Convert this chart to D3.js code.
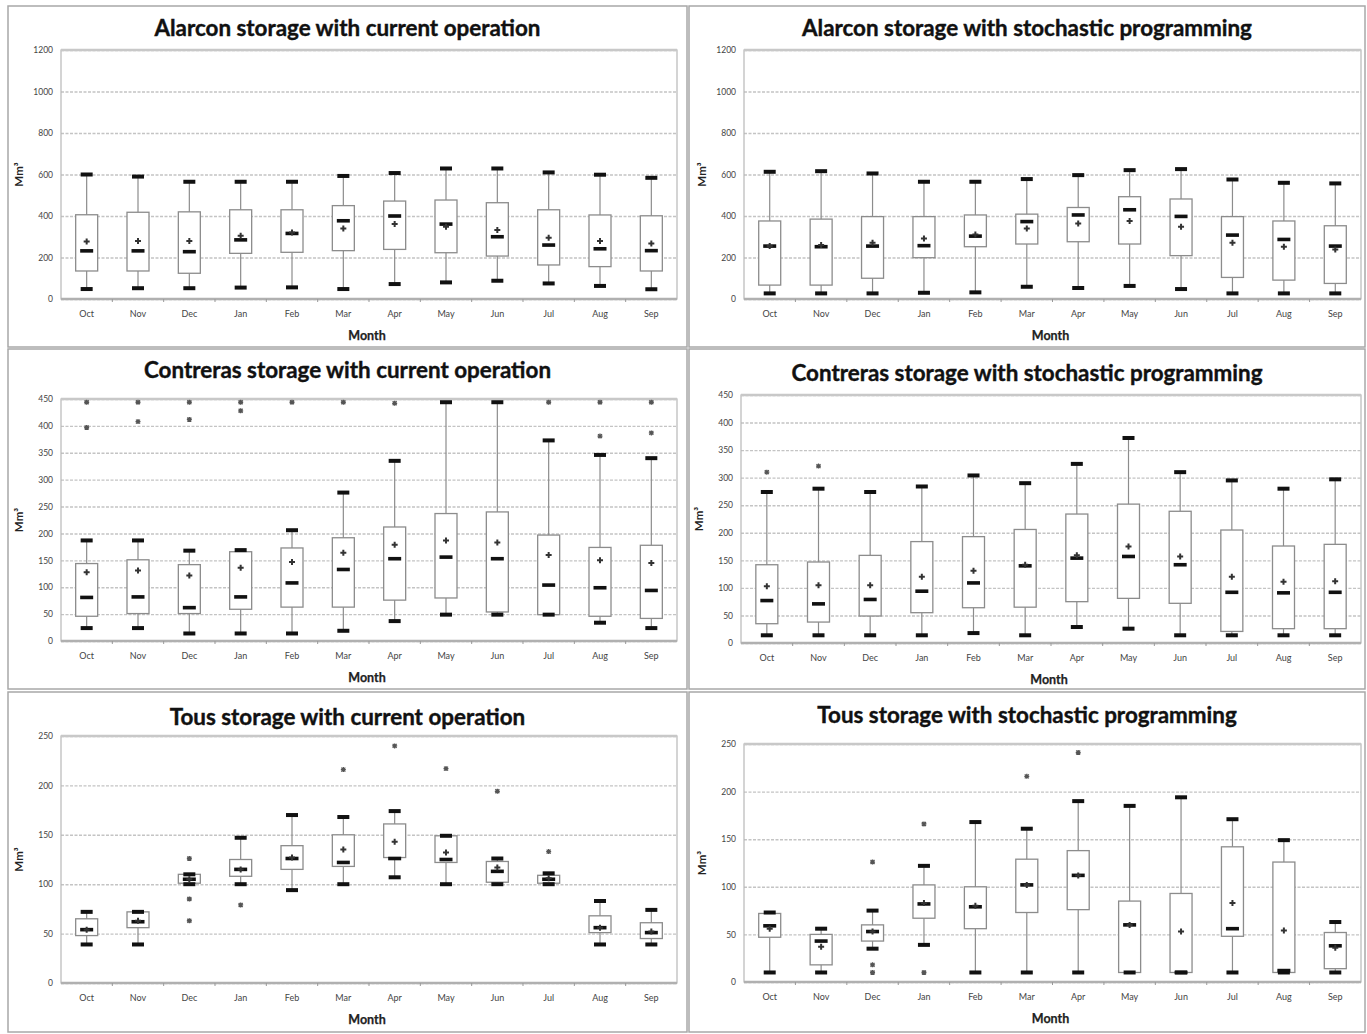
<!DOCTYPE html>
<html><head><meta charset="utf-8">
<script src="https://cdn.jsdelivr.net/npm/d3@7"></script>
<style>
body{margin:0;background:#fff;}
svg{display:block;}
</style></head>
<body><svg id="c" width="1367" height="1034"></svg>
<script>
// ---------- DATA ----------
const months = ["Oct","Nov","Dec","Jan","Feb","Mar","Apr","May","Jun","Jul","Aug","Sep"];
const alarconTicks = [0,200,400,600,800,1000,1200];
const contrerasTicks = [0,50,100,150,200,250,300,350,400,450];
const tousTicks = [0,50,100,150,200,250];

// Alarcon, current operation
const alarconCurLow    = [48,52,52,55,56,48,72,80,88,75,63,47];
const alarconCurQ1     = [135,135,124,220,225,233,239,223,207,164,156,135];
const alarconCurMedian = [232,232,228,285,316,377,400,361,300,260,242,233];
const alarconCurQ3     = [406,418,420,430,430,450,472,477,464,430,405,401];
const alarconCurHigh   = [600,590,565,565,565,593,607,629,629,610,599,584];
const alarconCurMean   = [277,280,280,305,321,340,361,348,332,295,279,268];
const alarconCurOut    = [];

// Alarcon, stochastic programming
const alarconStoLow    = [27,27,27,30,32,59,53,63,48,27,27,27];
const alarconStoQ1     = [67,67,100,199,252,265,276,265,209,104,91,75];
const alarconStoMedian = [255,252,255,257,303,373,405,430,398,308,287,255];
const alarconStoQ3     = [376,385,397,397,405,409,441,493,482,397,376,353];
const alarconStoHigh   = [613,616,605,565,565,578,597,621,626,576,560,557];
const alarconStoMean   = [255,260,271,292,311,340,364,376,348,271,252,239];
const alarconStoOut    = [];

// Contreras, current operation
const contrerasCurLow    = [24,24,14,14,14,19,37,49,49,49,34,24];
const contrerasCurQ1     = [46,51,51,59,63,63,76,80,54,49,46,42];
const contrerasCurMedian = [81,82,62,82,108,133,153,156,153,104,99,94];
const contrerasCurQ3     = [144,151,142,166,173,192,212,237,240,197,174,178];
const contrerasCurHigh   = [187,187,168,169,206,276,335,444,444,373,346,340];
const contrerasCurMean   = [128,131,122,136,147,164,179,187,183,160,150,145];
const contrerasCurOut    = [[0,444],[0,397],[1,444],[1,408],[2,444],[2,412],[3,444],[3,428],
                            [4,444],[5,444],[6,442],[9,444],[10,444],[10,381],[11,444],[11,387]];

// Contreras, stochastic programming
const contrerasStoLow    = [14,14,14,14,18,14,29,26,14,14,14,14];
const contrerasStoQ1     = [35,38,49,55,64,65,75,81,72,21,26,26];
const contrerasStoMedian = [77,71,79,94,109,140,154,157,142,92,91,92];
const contrerasStoQ3     = [142,147,159,184,193,206,234,252,239,205,176,179];
const contrerasStoHigh   = [274,280,274,284,304,290,325,372,310,295,280,297];
const contrerasStoMean   = [103,105,105,120,131,142,159,175,157,120,111,112];
const contrerasStoOut    = [[0,310],[1,321]];

// Tous, current operation
const tousCurLow    = [39,39,100,100,94,100,107,100,100,100,39,39];
const tousCurQ1     = [48,56,101,108,115,118,127,122,102,101,51,45];
const tousCurMedian = [54,62,105,115,126,122,126,125,113,105,56,51];
const tousCurQ3     = [65,72,110,125,139,150,161,149,123,109,68,61];
const tousCurHigh   = [72,72,110,147,170,168,174,149,126,111,83,74];
const tousCurMean   = [54,63,105,115,127,135,143,132,117,106,56,52];
const tousCurOut    = [[2,126],[2,85],[2,63],[3,79],[5,216],[6,240],[7,217],[8,194],[9,133]];

// Tous, stochastic programming
const tousStoLow    = [10,10,35,39,10,10,10,10,10,10,10,10];
const tousStoQ1     = [47,18,43,67,56,73,76,10,10,48,10,14];
const tousStoMedian = [59,43,53,82,79,102,112,60,10,56,12,38];
const tousStoQ3     = [72,50,60,102,100,129,138,85,93,142,126,52];
const tousStoHigh   = [73,56,75,122,168,161,190,185,194,171,149,63];
const tousStoMean   = [56,37,53,83,80,102,112,60,53,83,54,36];
const tousStoOut    = [[2,126],[2,18],[2,10],[3,166],[3,10],[5,216],[6,241]];

// ---------- LAYOUT ----------
const panels = [
  {title:"Alarcon storage with current operation", frame:[8,6,687,347], plot:[61,50,677,299], ticks:alarconTicks,
   low:alarconCurLow,q1:alarconCurQ1,med:alarconCurMedian,q3:alarconCurQ3,high:alarconCurHigh,mean:alarconCurMean,out:alarconCurOut, titleY:30},
  {title:"Alarcon storage with stochastic programming", frame:[689,6,1365,347], plot:[744,50,1361,299], ticks:alarconTicks,
   low:alarconStoLow,q1:alarconStoQ1,med:alarconStoMedian,q3:alarconStoQ3,high:alarconStoHigh,mean:alarconStoMean,out:alarconStoOut, titleY:30},
  {title:"Contreras storage with current operation", frame:[8,349,687,689], plot:[61,399,677,641], ticks:contrerasTicks,
   low:contrerasCurLow,q1:contrerasCurQ1,med:contrerasCurMedian,q3:contrerasCurQ3,high:contrerasCurHigh,mean:contrerasCurMean,out:contrerasCurOut, titleY:372},
  {title:"Contreras storage with stochastic programming", frame:[689,349,1365,689], plot:[741,395,1361,643], ticks:contrerasTicks,
   low:contrerasStoLow,q1:contrerasStoQ1,med:contrerasStoMedian,q3:contrerasStoQ3,high:contrerasStoHigh,mean:contrerasStoMean,out:contrerasStoOut, titleY:375},
  {title:"Tous storage with current operation", frame:[8,692,687,1032], plot:[61,736,677,983], ticks:tousTicks,
   low:tousCurLow,q1:tousCurQ1,med:tousCurMedian,q3:tousCurQ3,high:tousCurHigh,mean:tousCurMean,out:tousCurOut, titleY:719},
  {title:"Tous storage with stochastic programming", frame:[689,692,1365,1032], plot:[744,744,1361,982], ticks:tousTicks,
   low:tousStoLow,q1:tousStoQ1,med:tousStoMedian,q3:tousStoQ3,high:tousStoHigh,mean:tousStoMean,out:tousStoOut, titleY:717}
];

const svg = d3.select("#c");
const FONT = "Lato, 'Open Sans', sans-serif";

panels.forEach(p => {
  const [fx0,fy0,fx1,fy1] = p.frame;
  const [px0,py0,px1,py1] = p.plot;
  const g = svg.append("g");

  g.append("rect").attr("x",fx0).attr("y",fy0).attr("width",fx1-fx0).attr("height",fy1-fy0)
    .attr("fill","#fff").attr("stroke","#a8a8a8").attr("stroke-width",1.5);

  const x = d3.scaleBand().domain(months).range([px0,px1]).paddingInner(0).paddingOuter(0);
  const yMax = p.ticks[p.ticks.length-1];
  const y = d3.scaleLinear().domain([0,yMax]).range([py1,py0]);

  // gridlines
  const grid = g.append("g").attr("transform",`translate(${px0},0)`)
    .call(d3.axisLeft(y).tickValues(p.ticks).tickSize(-(px1-px0)).tickFormat(""));
  grid.select(".domain").remove();
  grid.selectAll("line").attr("stroke","#c4c4c4").attr("stroke-width",1.4).attr("stroke-dasharray","3,1.5");

  // plot frame
  g.append("rect").attr("x",px0).attr("y",py0).attr("width",px1-px0).attr("height",py1-py0)
    .attr("fill","none").attr("stroke","#b8b8b8").attr("stroke-width",1.2);
  g.append("line").attr("x1",px0).attr("x2",px1).attr("y1",py0).attr("y2",py0).attr("stroke","#c8c8c8").attr("stroke-width",2.5);
  g.append("line").attr("x1",px0).attr("x2",px1).attr("y1",py1).attr("y2",py1).attr("stroke","#b0b0b0").attr("stroke-width",2.5);

  // y axis labels
  const ya = g.append("g").attr("transform",`translate(${px0-6},0)`)
    .call(d3.axisLeft(y).tickValues(p.ticks).tickSize(0).tickPadding(2).tickFormat(d3.format("d")));
  ya.select(".domain").remove();
  ya.selectAll("text").attr("font-family",FONT).attr("font-size",8.5).attr("fill","#444");

  // x axis labels
  const xa = g.append("g").attr("transform",`translate(0,${py1})`)
    .call(d3.axisBottom(x).tickSize(0).tickPadding(12));
  xa.select(".domain").remove();
  xa.selectAll("text").attr("font-family",FONT).attr("font-size",9).attr("fill","#444");
  // small ticks at band boundaries
  g.selectAll(".bt").data(months.slice(1)).enter().append("line")
    .attr("x1",d=>x(d)).attr("x2",d=>x(d)).attr("y1",py1).attr("y2",py1+3)
    .attr("stroke","#999").attr("stroke-width",1);

  // titles
  g.append("text").attr("x",(fx0+fx1)/2).attr("y",p.titleY).attr("text-anchor","middle")
    .attr("dominant-baseline","middle").attr("font-family",FONT).attr("font-weight","bold")
    .attr("font-size",22.4).attr("fill","#111").attr("stroke","#111").attr("stroke-width",0.4)
    .text(p.title);
  g.append("text").attr("x",(px0+px1)/2 - 2).attr("y",py1+41).attr("text-anchor","middle")
    .attr("font-family",FONT).attr("font-weight","bold").attr("font-size",12.5).attr("fill","#222")
    .attr("stroke","#222").attr("stroke-width",0.25).text("Month");
  g.append("text").attr("transform",`translate(${px0-38},${(py0+py1)/2}) rotate(-90)`)
    .attr("text-anchor","middle").attr("font-family",FONT).attr("font-weight","bold")
    .attr("font-size",11.5).attr("fill","#222").text("Mm³");

  const bw = 22, cw = 12, mw = 13;
  const cx = i => x(months[i]) + x.bandwidth()/2;
  const idx = d3.range(months.length);

  // whiskers
  g.selectAll(".wh").data(idx).enter().append("line")
    .attr("x1",cx).attr("x2",cx).attr("y1",i=>y(p.low[i])).attr("y2",i=>y(p.high[i]))
    .attr("stroke","#8c8c8c").attr("stroke-width",1.2);
  // boxes
  g.selectAll(".bx").data(idx).enter().append("rect")
    .attr("x",i=>cx(i)-bw/2).attr("width",bw)
    .attr("y",i=>y(p.q3[i])).attr("height",i=>Math.max(0.5,y(p.q1[i])-y(p.q3[i])))
    .attr("fill","#fff").attr("stroke","#8c8c8c").attr("stroke-width",1.3);
  // caps
  ["low","high"].forEach(k=>{
    g.selectAll(".cap"+k).data(idx).enter().append("rect")
      .attr("x",i=>cx(i)-cw/2).attr("width",cw).attr("y",i=>y(p[k][i])-2).attr("height",4)
      .attr("fill","#111");
  });
  // medians
  g.selectAll(".md").data(idx).enter().append("rect")
    .attr("x",i=>cx(i)-mw/2).attr("width",mw).attr("y",i=>y(p.med[i])-1.8).attr("height",3.6)
    .attr("fill","#111");
  // means (+)
  const plus = (sx,sy,s)=>`M${sx-s},${sy}H${sx+s}M${sx},${sy-s}V${sy+s}`;
  g.selectAll(".mn").data(idx).enter().append("path")
    .attr("d",i=>plus(cx(i),y(p.mean[i]),3))
    .attr("stroke","#333").attr("stroke-width",2).attr("fill","none");
  // outliers
  g.selectAll(".ot").data(p.out).enter().append("path")
    .attr("d",d=>{const sx=cx(d[0]),sy=y(d[1]),s=2.5;
      return plus(sx,sy,s)+`M${sx-2},${sy-2}L${sx+2},${sy+2}M${sx-2},${sy+2}L${sx+2},${sy-2}`;})
    .attr("stroke","#555").attr("stroke-width",1.3).attr("fill","none");
});
</script>
</body></html>
